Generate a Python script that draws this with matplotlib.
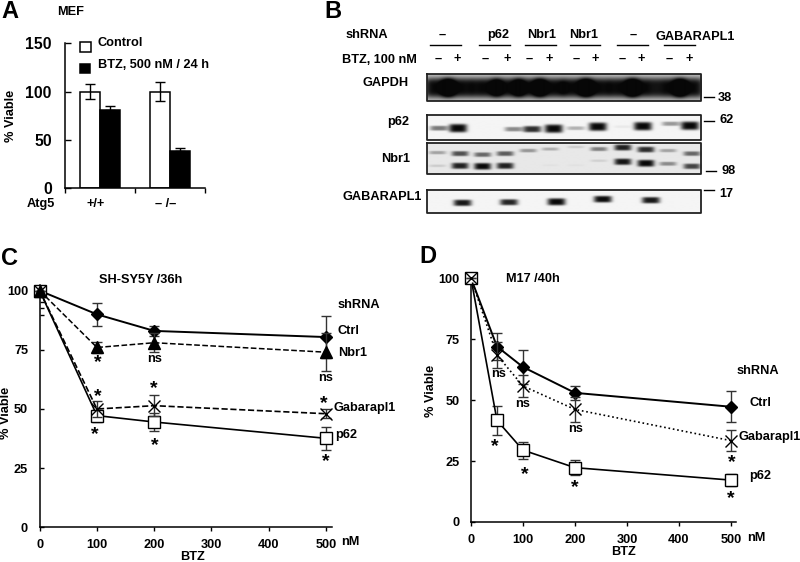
import numpy as np
import matplotlib
matplotlib.use("Agg")
import matplotlib.pyplot as plt

plt.rcParams["font.family"] = ["Liberation Sans", "DejaVu Sans"]
plt.rcParams["font.weight"] = "bold"

W, H = 800, 562
FS = 9.2

# panel A
a_groups = ["+/+", "\u2013 /\u2013"]
a_control = [100, 100]
a_control_err = [7.5, 10]
a_btz = [81, 39]
a_btz_err = [4.5, 2.5]

# panel C
c_x = [0, 100, 200, 500]
c_ctrl = [100, 90, 83, 80.4]
c_ctrl_err = [0, 5, 2, 9]
c_nbr1 = [100, 76, 78, 74]
c_nbr1_err = [0, 2.5, 4, 8]
c_gab = [100, 50, 51.4, 48]
c_gab_err = [0, 3.5, 4.5, 2]
c_p62 = [100, 47.2, 44.5, 37.6]
c_p62_err = [0, 2.5, 4, 4.8]
c_zero_caps = [97.5, 95.4, 92.7, 89.7]
c_stars = [(102, 70.4), (200, 59.4), (101, 56.3), (97, 40), (201, 35.2), (497, 53.1), (500, 28.5)]
c_ns = [(201, 71), (500, 63)]

# panel D
d_x = [0, 50, 100, 200, 500]
d_ctrl = [100, 72, 63.6, 53, 47.3]
d_ctrl_err = [0, 5.5, 7, 3, 6.3]
d_gab = [100, 68.5, 55.8, 46.2, 33.4]
d_gab_err = [0, 5.5, 4.7, 5, 4.4]
d_p62 = [100, 41.7, 29.5, 22.3, 17.2]
d_p62_err = [0, 6, 3.5, 3, 2.5]
d_stars = [(46, 31.6), (103, 20.4), (200, 14.8), (502, 25.4), (500, 10.4)]
d_ns = [(54, 60.6), (100, 48.3), (201, 38.2)]

# panel B, band strength per lane
gapdh_level = [1, 1, 1, 1, 1, 1, 1, 1, 1, 1, 1, 1]
p62_level = [0.4, 1, 0, 0.35, 0.65, 1, 0.22, 1, 0.04, 1, 0.3, 1]
nbr1_upper = [0.3, 0.65, 0.55, 0.6, 0.35, 0.25, 0.12, 0.45, 0.85, 0.8, 0.3, 0.55]
nbr1_lower = [0.12, 0.85, 0.95, 0.85, 0, 0.03, 0.03, 0.1, 0.9, 1, 0.4, 0.7]
gab_level = [0, 0.85, 0, 0.8, 0, 1, 0, 0.9, 0, 0.85, 0, 0]
shrna_names = ["\u2013", "p62", "Nbr1", "Nbr1", "\u2013", "GABARAPL1"]
btz_marks = ["\u2013", "+"] * 6


def make_axes(fig, left, right, top, bottom):
    return fig.add_axes([left / W, 1 - bottom / H, (right - left) / W, (bottom - top) / H])


def style(ax):
    ax.spines["top"].set_visible(False)
    ax.spines["right"].set_visible(False)
    ax.spines["left"].set_linewidth(1.1)
    ax.spines["bottom"].set_linewidth(1.1)
    ax.patch.set_alpha(0)


def blot(ax, box, lanes, rows, bg=0.9, gain=1.3):
    # rows: (levels, y of each lane, half width, half height)
    x0, x1, y0, y1 = box
    xs, ys = np.meshgrid(np.arange(x0, x1, 0.5), np.arange(y0, y1, 0.5))
    dark = np.zeros_like(xs)
    for levels, row_y, hw, hh in rows:
        for lx, ly, lev in zip(lanes, row_y, levels):
            if lev == 0:
                continue
            h = hh * (0.3 + 0.7 * lev)
            dark += min(1, lev * gain) * np.exp(-((xs - lx) / hw) ** 4 - ((ys - ly) / h) ** 4)
    img = bg * (1 - np.clip(dark, 0, 1)) + 0.03
    ax.imshow(img, cmap="gray", vmin=0, vmax=1, extent=(x0, x1, y1, y0), aspect="auto", zorder=1)
    ax.plot([x0, x1, x1, x0, x0], [y0, y0, y1, y1, y0], color="#222222", lw=1.3, zorder=2)


def curve(ax, x, y, err, fmt, marker, ms, lw, zorder, fill="black"):
    ax.errorbar(x, y, yerr=err, fmt=fmt, marker=marker, ms=ms, mfc=fill, mec="black", mew=1, lw=lw,
                color="black", ecolor="#333333", elinewidth=1, capsize=3.5, capthick=1,
                clip_on=False, zorder=zorder)


def finish_line_axes(ax, stars, ns):
    ax.set_xlim(0, 510)
    ax.set_xticks([0, 100, 200, 300, 400, 500])
    ax.set_yticks([0, 25, 50, 75, 100])
    ax.tick_params(axis="x", direction="out", length=3, width=1, labelsize=FS, pad=5.5)
    ax.tick_params(axis="y", direction="in", length=3, width=1, labelsize=FS, pad=8.4)
    style(ax)
    for sx, sy in stars:
        ax.text(sx, sy, "*", fontsize=14, ha="center", va="center_baseline", zorder=6)
    for sx, sy in ns:
        ax.text(sx, sy, "ns", fontsize=FS, ha="center", va="center", zorder=6)


fig = plt.figure(figsize=(W / 100, H / 100), dpi=100)
over = fig.add_axes([0, 0, 1, 1])
over.axis("off")


def label(x, y, s, size=FS, ha="left", **kw):
    over.text(x, y, s, fontsize=size, ha=ha, va="center", **kw)


def letter(x, y, s):
    over.text(x, y, s, fontsize=17, ha="left", va="baseline")


# panel letters
letter(1, 18, "A")
letter(324, 17.5, "B")
letter(1, 265, "C")
letter(419, 263, "D")

# A
ax = make_axes(fig, 65.3, 205, 43.3, 188.3)
xpos = np.arange(2) + 0.5
bw = 0.287
ekw = dict(ecolor="black", elinewidth=1, capsize=3.5, capthick=1)
ax.bar(xpos - bw / 2, a_control, bw, color="white", edgecolor="black", linewidth=1.1,
       yerr=a_control_err, error_kw=ekw)
ax.bar(xpos + bw / 2, a_btz, bw, color="black", edgecolor="black", linewidth=1.1,
       yerr=[[0, 0], a_btz_err], error_kw=ekw)
ax.set_xlim(0, 2)
ax.set_ylim(0, 150)
ax.set_yticks([0, 50, 100, 150])
ax.set_xticks([0, 1, 2])
ax.set_xticklabels([])
ax.tick_params(axis="y", direction="in", length=4, width=1, labelsize=11.3, pad=9.8)
ax.tick_params(axis="x", direction="out", length=3.5, width=1)
style(ax)
label(71, 12, "MEF", ha="center")
over.add_patch(plt.Rectangle((80, 42), 11, 9.5, fc="white", ec="black", lw=1.1))
over.add_patch(plt.Rectangle((80, 63.5), 10, 9.5, fc="black", ec="black", lw=1.1))
label(98, 43.5, "Control")
label(98, 65.5, "BTZ, 500 nM / 24 h")
label(11.5, 115.5, "% Viable", ha="center", rotation=90)
label(40.7, 204, "Atg5", ha="center")
label(96, 204, a_groups[0], ha="center")
label(165.7, 204, a_groups[1], ha="center")

# B
lanes = [437.7, 457.3, 484.7, 507, 529, 549.3, 575.7, 594.7, 622, 641.3, 669.3, 688.7]
shrna_x = [442, 498, 541.7, 584, 633.3, 695.3]
shrna_y = [35, 35, 35, 35, 35, 36.7]
rule_x = [(430, 461.3), (479.3, 510), (525, 556), (570, 600), (617.3, 648.3), (664, 695)]
label(388, 35, "shRNA", ha="right")
label(341.7, 60, "BTZ, 100 nM")
for name, sx, sy, (r0, r1) in zip(shrna_names, shrna_x, shrna_y, rule_x):
    label(sx, sy, name, ha="center")
    over.plot([r0, r1], [45.3, 45.3], color="black", lw=1)
for lx, mark in zip(lanes, btz_marks):
    label(lx, 59, mark, ha="center")

blot(over, (426.7, 701, 74, 101), lanes, [(gapdh_level, [87.5] * 12, 15, 10)], bg=0.72)
p62_x = [438.5, 457.5, 485, 513, 531.5, 553, 575, 597, 622, 642, 670, 689]
p62_y = [128.5, 128.5, 128.5, 129.5, 129.5, 129, 128.5, 127, 127, 126.5, 124, 126]
blot(over, (426.7, 701, 115.3, 140.3), p62_x, [(p62_level, p62_y, 9, 4.3)], bg=0.93)
nbr1_x = [437, 459.5, 482, 504.5, 527.5, 549.5, 575, 598, 622, 645, 667, 691]
upper_y = [152.5, 153.5, 154.5, 153.5, 150.5, 149, 147, 149, 147.5, 149.5, 150.5, 153.5]
lower_y = [165.5, 165.5, 166, 165.5, 165, 165, 165, 160.5, 161.5, 163, 163.5, 166]
blot(over, (426.7, 701, 143.3, 173.7), nbr1_x,
     [(nbr1_upper, upper_y, 8.5, 3.3), (nbr1_lower, lower_y, 8.5, 3.4)], bg=0.88, gain=1.05)
gab_x = [438, 462, 485, 508.3, 530, 555.7, 576, 602, 622, 650, 669, 689]
gab_y = [203, 203.3, 203, 202.7, 202.7, 202.3, 200, 199.7, 200, 200.7, 200, 200]
blot(over, (426.7, 701, 190, 213.3), gab_x, [(gab_level, gab_y, 9, 3.5)], bg=0.93, gain=1.1)

label(386, 83, "GAPDH", ha="center")
label(398, 121.7, "p62", ha="center")
label(396, 159, "Nbr1", ha="center")
label(382, 196.7, "GABARAPL1", ha="center")
for x0, x1, yd, tx, ty, s in [(704.3, 714.3, 97, 718, 98, "38"), (704.3, 714.3, 120.7, 719, 120, "62"),
                              (705.5, 715.5, 171, 721, 171, "98"), (704.3, 714.3, 190, 719, 193.7, "17")]:
    over.plot([x0, x1], [yd, yd], color="black", lw=1)
    label(tx, ty, s)

# C
ax = make_axes(fig, 39.7, 331.7, 285, 527.3)
ax.set_ylim(0, 102.4)
curve(ax, c_x, c_ctrl, c_ctrl_err, "-", "D", 6.3, 1.4, 3)
curve(ax, c_x, c_p62, c_p62_err, "-", "s", 8.3, 1.2, 4, fill="white")
curve(ax, c_x, c_gab, c_gab_err, "--", "x", 8.5, 1.2, 5)
curve(ax, c_x, c_nbr1, c_nbr1_err, "--", "^", 8.5, 1.1, 5)
ax.set_yticks(c_zero_caps, minor=True)
ax.tick_params(axis="y", which="minor", direction="in", length=3, width=1)
finish_line_axes(ax, c_stars, c_ns)
label(141, 280, "SH-SY5Y /36h", ha="center")
label(338, 305, "shRNA")
label(338, 331, "Ctrl")
label(338, 352.7, "Nbr1")
label(333.3, 407.7, "Gabarapl1")
label(335, 435, "p62")
label(340.7, 541.7, "nM")
label(192.7, 556.7, "BTZ", ha="center")
label(6, 413, "% Viable", ha="center", rotation=90)

# D
ax = make_axes(fig, 471, 736, 278.3, 522)
ax.set_ylim(0, 100)
curve(ax, d_x, d_ctrl, d_ctrl_err, "-", "D", 6.3, 1.4, 3)
curve(ax, d_x, d_p62, d_p62_err, "-", "s", 8.3, 1.2, 4, fill="white")
curve(ax, d_x, d_gab, d_gab_err, ":", "x", 8.5, 1.2, 5)
finish_line_axes(ax, d_stars, d_ns)
label(533.3, 279.3, "M17 /40h", ha="center")
label(758, 371.3, "shRNA", ha="center")
label(749, 403.3, "Ctrl")
label(738.5, 437.3, "Gabarapl1")
label(749, 476, "p62")
label(746.7, 537.7, "nM")
label(624, 551.7, "BTZ", ha="center")
label(430.7, 390.7, "% Viable", ha="center", rotation=90)

over.set_xlim(0, W)
over.set_ylim(H, 0)
fig.savefig("out.png", dpi=100, facecolor="white")
